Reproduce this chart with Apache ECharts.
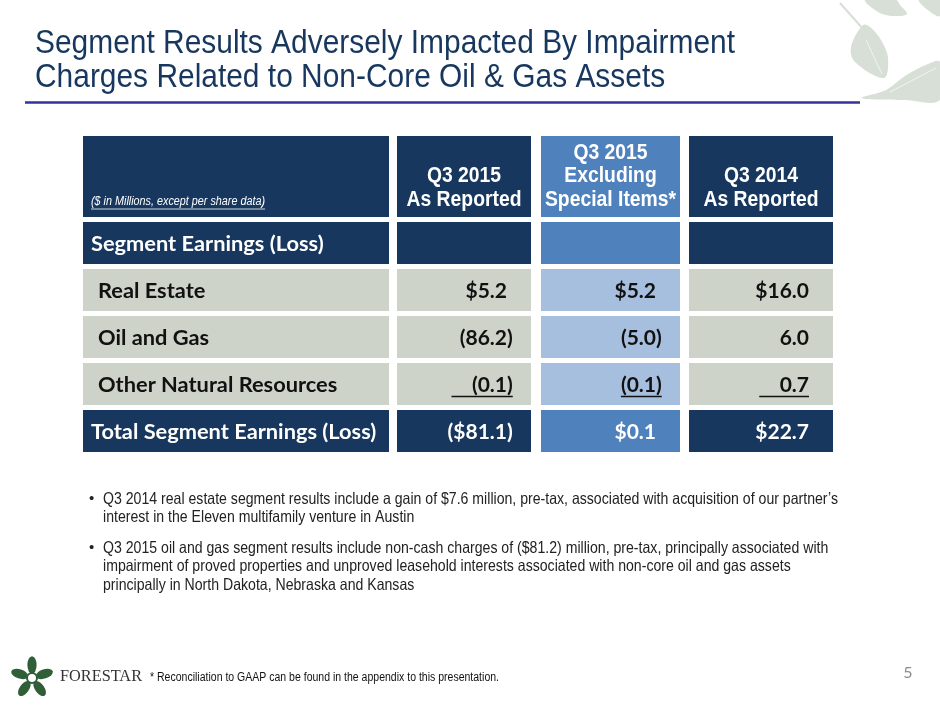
<!DOCTYPE html>
<html>
<head>
<meta charset="utf-8">
<script src="https://cdn.jsdelivr.net/npm/echarts@6/dist/echarts.min.js"></script>
<style>
  html, body { margin: 0; padding: 0; background: #fff; }
  #main { width: 940px; height: 705px; }
</style>
</head>
<body>
<div id="main"></div>
<script>
// table content
const columnHeaders = [
    [],
    ['Q3 2015', 'As Reported'],
    ['Q3 2015', 'Excluding', 'Special Items*'],
    ['Q3 2014', 'As Reported']
];
const unitsNote = '($ in Millions, except per share data)';
const rowLabels = ['Segment Earnings (Loss)', 'Real Estate', 'Oil and Gas', 'Other Natural Resources', 'Total Segment Earnings (Loss)'];
const q3_2015Reported = ['', '$5.2', '(86.2)', '    (0.1)', '($81.1)'];
const q3_2015Excluding = ['', '$5.2', '(5.0)', '(0.1)', '$0.1'];
const q3_2014Reported = ['', '$16.0', '6.0', '    0.7', '$22.7'];
const underlinedRow = 'Other Natural Resources';

const titleLines = [
    'Segment Results Adversely Impacted By Impairment',
    'Charges Related to Non-Core Oil & Gas Assets'
];
const bullets = [
    ['Q3 2014 real estate segment results include a gain of $7.6 million, pre-tax, associated with acquisition of our partner\u2019s',
     'interest in the Eleven multifamily venture in Austin'],
    ['Q3 2015 oil and gas segment results include non-cash charges of ($81.2) million, pre-tax, principally associated with',
     'impairment of proved properties and unproved leasehold interests associated with non-core oil and gas assets',
     'principally in North Dakota, Nebraska and Kansas']
];
const footnote = '* Reconciliation to GAAP can be found in the appendix to this presentation.';
const pageNumber = '5';

const NAVY = '#17375E';
const BLUE = '#4F81BD';
const BLUE_LIGHT = '#A7BFDE';
const GREY = '#CED3CA';
const CELL_FONT = 'Lato, "Open Sans", sans-serif';
const HEAD_FONT = '"Liberation Sans", Arial, sans-serif';

const measureCtx = document.createElement('canvas').getContext('2d');
function textWidth(text, font) {
    measureCtx.font = font;
    return measureCtx.measureText(text).width;
}

const chart = echarts.init(document.getElementById('main'));

// column layout (left, width) and the two row blocks
const colBoxes = [[83, 306], [397, 134], [541, 139], [689, 144]];
const headBox = { top: 136, height: 81 };
const bodyBox = { top: 222, height: 235 };
const ROW_GAP = 5;
const columnValues = [rowLabels, q3_2015Reported, q3_2015Excluding, q3_2014Reported];

const headFont = 'bold 22px ' + HEAD_FONT;
const headScale = 115 / textWidth('As Reported', headFont);
const labelFont = 'bold 21.8px ' + CELL_FONT;
const valueFont = 'bold 21px ' + CELL_FONT;

const grids = [], xAxes = [], yAxes = [], series = [];

colBoxes.forEach((box, ci) => {
    const isBlue = ci === 2;
    // header grid
    grids.push({ left: box[0], width: box[1], top: headBox.top, height: headBox.height });
    // body grid
    grids.push({ left: box[0], width: box[1], top: bodyBox.top, height: bodyBox.height });
    const gh = grids.length - 2, gb = grids.length - 1;
    xAxes.push({ gridIndex: gh, type: 'category', data: ['c'], show: false });
    xAxes.push({ gridIndex: gb, type: 'category', data: ['c'], show: false });
    yAxes.push({ gridIndex: gh, type: 'category', data: ['head'], show: false });
    yAxes.push({ gridIndex: gb, type: 'category', data: rowLabels, inverse: true, show: false });

    series.push({
        type: 'custom',
        xAxisIndex: gh, yAxisIndex: gh,
        silent: true,
        data: [[0, 0]],
        renderItem: (params, api) => {
            const c = api.coord([api.value(0), api.value(1)]);
            const s = api.size([0, 1]);
            const x0 = c[0] - s[0] / 2, y0 = c[1] - s[1] / 2;
            const children = [{
                type: 'rect',
                shape: { x: x0, y: y0, width: s[0], height: s[1] },
                style: { fill: isBlue ? BLUE : NAVY }
            }];
            const lines = columnHeaders[ci];
            const lh = 23.7;
            lines.forEach((t, li) => {
                children.push({
                    type: 'text',
                    x: c[0], y: y0 + 64 - (lines.length - 1 - li) * lh,
                    scaleX: headScale,
                    style: { text: t, x: 0, y: 0, fill: '#fff', font: headFont, align: 'center', verticalAlign: 'middle' }
                });
            });
            if (ci === 0) {
                const f = 'italic 12px ' + HEAD_FONT;
                const w = textWidth(unitsNote, f) * 0.9;
                children.push({
                    type: 'text', x: x0 + 8, y: y0 + 66, scaleX: 0.9,
                    style: { text: unitsNote, x: 0, y: 0, fill: '#fff', font: f, align: 'left', verticalAlign: 'middle' }
                });
                children.push({
                    type: 'line',
                    shape: { x1: x0 + 8, y1: y0 + 73, x2: x0 + 8 + w, y2: y0 + 73 },
                    style: { stroke: '#fff', lineWidth: 0.8 }
                });
            }
            return { type: 'group', children };
        }
    });

    series.push({
        type: 'custom',
        xAxisIndex: gb, yAxisIndex: gb,
        silent: true,
        data: columnValues[ci].map((v, ri) => [0, ri, v]),
        renderItem: (params, api) => {
            const ri = api.value(1);
            const text = columnValues[ci][ri];
            const c = api.coord([api.value(0), ri]);
            const s = api.size([0, 1]);
            const x0 = c[0] - s[0] / 2, y0 = c[1] - s[1] / 2;
            const h = s[1] - ROW_GAP;
            const cy = y0 + h / 2 + 1;
            const band = ri === 0 || ri === rowLabels.length - 1;
            const fill = band ? (isBlue ? BLUE : NAVY) : (isBlue ? BLUE_LIGHT : GREY);
            const color = band ? '#fff' : '#111';
            const children = [{
                type: 'rect',
                shape: { x: x0, y: y0, width: s[0], height: h },
                style: { fill }
            }];
            if (ci === 0) {
                children.push({
                    type: 'text',
                    style: { text, x: x0 + (band ? 8 : 15), y: cy, fill: color, font: labelFont, align: 'left', verticalAlign: 'middle' }
                });
            } else if (text) {
                const right = x0 + s[0] - 24;
                const closes = text.endsWith(')');
                const body = closes ? text.slice(0, -1) : text;
                children.push({
                    type: 'text',
                    style: { text: body, x: right, y: cy, fill: color, font: valueFont, align: 'right', verticalAlign: 'middle' }
                });
                if (closes) {
                    children.push({
                        type: 'text',
                        style: { text: ')', x: right, y: cy, fill: color, font: valueFont, align: 'left', verticalAlign: 'middle' }
                    });
                }
                if (rowLabels[ri] === underlinedRow) {
                    const wBody = textWidth(body, valueFont);
                    const wEnd = closes ? textWidth(')', valueFont) : 0;
                    children.push({
                        type: 'line',
                        shape: { x1: right - wBody, y1: cy + 11.5, x2: right + wEnd, y2: cy + 11.5 },
                        style: { stroke: color, lineWidth: 1.5 }
                    });
                }
            }
            return { type: 'group', children };
        }
    });
});

// slide decorations and text
const titleFont = '34px ' + HEAD_FONT;
const titleScale = 700 / textWidth(titleLines[0], titleFont);
const bulletFont = '16.5px ' + HEAD_FONT;
const bulletScale = 735 / textWidth(bullets[0][0], bulletFont);
const brandFont = '17px "Liberation Serif", serif';
const brandScale = 82 / textWidth('FORESTAR', brandFont);
const noteFont = '12.5px ' + HEAD_FONT;
const noteScale = 349 / textWidth(footnote, noteFont);

const graphic = [];
titleLines.forEach((t, i) => {
    graphic.push({
        type: 'text', x: 35, y: 43.5 + i * 34, scaleX: titleScale,
        style: { text: t, x: 0, y: 0, fill: NAVY, font: titleFont, align: 'left', verticalAlign: 'middle' }
    });
});
graphic.push({
    type: 'line', shape: { x1: 25, y1: 102.5, x2: 860, y2: 102.5 },
    style: { stroke: '#32349A', lineWidth: 2.5 }
});

// leaves, top right
const LEAF = '#D7DFD6';
const leafShapes = [
    [[865, 0], [878, 12], [892, 16], [907, 14], [900, 5], [896, 0]],
    [[919, 0], [929, 11], [940, 16], [940, 0]],
    [[863, 25], [851, 47], [855, 62], [884, 78], [888, 58], [881, 40], [870, 27]],
    [[862, 98], [886, 90], [905, 76], [928, 64], [940, 62], [940, 100], [905, 100]]
];
leafShapes.forEach(pts => {
    graphic.push({ type: 'polygon', shape: { points: pts, smooth: 0.35 }, style: { fill: LEAF } });
});
graphic.push({ type: 'line', shape: { x1: 840, y1: 3, x2: 864, y2: 30 }, style: { stroke: LEAF, lineWidth: 2 } });
graphic.push({ type: 'line', shape: { x1: 866, y1: 40, x2: 882, y2: 74 }, style: { stroke: '#F2F5F1', lineWidth: 1 } });
graphic.push({ type: 'line', shape: { x1: 890, y1: 92, x2: 936, y2: 68 }, style: { stroke: '#F2F5F1', lineWidth: 1 } });

bullets.forEach((lines, bi) => {
    const top = bi === 0 ? 499 : 548;
    graphic.push({
        type: 'text', x: 89, y: top,
        style: { text: '\u2022', x: 0, y: 0, fill: '#222', font: '15px ' + HEAD_FONT, align: 'left', verticalAlign: 'middle' }
    });
    lines.forEach((t, li) => {
        graphic.push({
            type: 'text', x: 103, y: top + li * 18.5, scaleX: bulletScale,
            style: { text: t, x: 0, y: 0, fill: '#222', font: bulletFont, align: 'left', verticalAlign: 'middle' }
        });
    });
});

// footer logo: five leaves round a small ring
const logoCx = 32, logoCy = 678;
graphic.push({ type: 'ring', shape: { cx: logoCx, cy: logoCy, r: 6, r0: 4 }, style: { fill: '#2F5E37' } });
for (let k = 0; k < 5; k++) {
    const a = (k * 72 - 90) * Math.PI / 180;
    graphic.push({
        type: 'circle',
        x: logoCx + Math.cos(a) * 13, y: logoCy + Math.sin(a) * 13,
        rotation: -a, scaleX: 1.9,
        shape: { cx: 0, cy: 0, r: 4.6 },
        style: { fill: '#2F5E37' }
    });
}
graphic.push({
    type: 'text', x: 60, y: 677, scaleX: brandScale,
    style: { text: 'FORESTAR', x: 0, y: 0, fill: '#333', font: brandFont, align: 'left', verticalAlign: 'middle' }
});
graphic.push({
    type: 'text', x: 150, y: 678, scaleX: noteScale,
    style: { text: footnote, x: 0, y: 0, fill: '#111', font: noteFont, align: 'left', verticalAlign: 'middle' }
});
graphic.push({
    type: 'text', x: 908, y: 673,
    style: { text: pageNumber, x: 0, y: 0, fill: '#8C8C8C', font: '16px ' + CELL_FONT, align: 'center', verticalAlign: 'middle' }
});

chart.setOption({
    animation: false,
    grid: grids,
    xAxis: xAxes,
    yAxis: yAxes,
    series,
    graphic
});

window.addEventListener('resize', () => chart.resize());
</script>
</body>
</html>
